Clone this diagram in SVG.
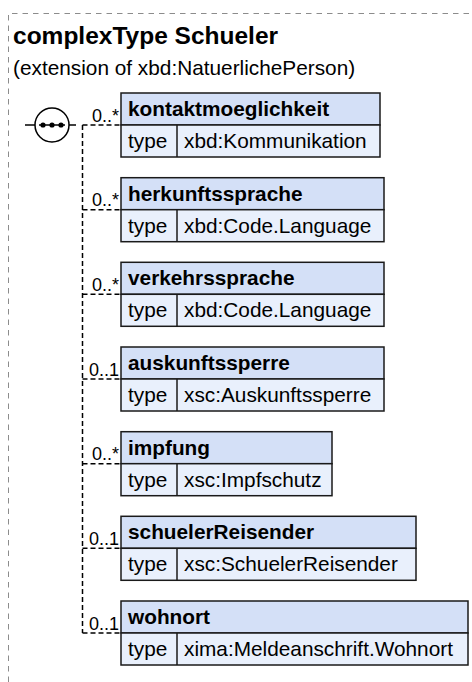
<svg xmlns="http://www.w3.org/2000/svg" width="472" height="682" viewBox="0 0 472 682">
<style>
.frame{fill:none;stroke:#8c8c8c;stroke-width:1;stroke-dasharray:5.5,5}
.title{font-family:"Liberation Sans",Arial,sans-serif;font-weight:bold;font-size:24.5px;fill:#000}
.sub{font-family:"Liberation Sans",Arial,sans-serif;font-size:20.8px;fill:#000}
.hdr{fill:#d4e0f7;stroke:#1a1a1a;stroke-width:1.5}
.row{fill:#e9f0fc;stroke:#1a1a1a;stroke-width:1.5}
.name{font-family:"Liberation Sans",Arial,sans-serif;font-weight:bold;font-size:20.8px;fill:#000}
.txt{font-family:"Liberation Sans",Arial,sans-serif;font-size:20.8px;fill:#000}
.card{font-family:"Liberation Sans",Arial,sans-serif;font-size:18px;fill:#000;text-anchor:end}
.dash{fill:none;stroke:#000;stroke-width:1.5;stroke-dasharray:5,3}
.solid{fill:none;stroke:#000;stroke-width:1.5}
</style>
<path class="frame" d="M8.5,682 V13.5 H472"/>
<text class="title" x="13" y="44">complexType Schueler</text>
<text class="sub" x="13" y="75">(extension of xbd:NatuerlichePerson)</text>
<g id="sequence">
<line class="solid" x1="25" y1="125" x2="35" y2="125"/>
<circle cx="52" cy="125" r="17" fill="#fff" stroke="#000" stroke-width="1.5"/>
<line class="solid" x1="69" y1="125" x2="76" y2="125"/>
<line x1="39" y1="125" x2="65" y2="125" stroke="#000" stroke-width="1.5"/>
<circle cx="43" cy="125" r="2.6" fill="#000"/>
<circle cx="52" cy="125" r="2.6" fill="#000"/>
<circle cx="61" cy="125" r="2.6" fill="#000"/>
</g>
<g id="connectors">
<path class="dash" d="M82.5,125 V633"/>
<path class="dash" d="M82.5,125 H121"/>
<path class="dash" d="M82.5,209.7 H121"/>
<path class="dash" d="M82.5,294.3 H121"/>
<path class="dash" d="M82.5,379 H121"/>
<path class="dash" d="M82.5,463.7 H121"/>
<path class="dash" d="M82.5,548.3 H121"/>
<path class="dash" d="M82.5,633 H121"/>
<text class="card" x="119" y="121.5">0..*</text>
<text class="card" x="119" y="206.2">0..*</text>
<text class="card" x="119" y="290.8">0..*</text>
<text class="card" x="119" y="375.5">0..1</text>
<text class="card" x="119" y="460.2">0..*</text>
<text class="card" x="119" y="544.8">0..1</text>
<text class="card" x="119" y="629.5">0..1</text>
</g>
<g id="kontaktmoeglichkeit" transform="translate(121,93)">
<rect class="hdr" x="0" y="0" width="259" height="32"/>
<rect class="row" x="0" y="32" width="259" height="32"/>
<line x1="56" y1="32" x2="56" y2="64" stroke="#1a1a1a" stroke-width="1.5"/>
<text class="name" x="7" y="23">kontaktmoeglichkeit</text>
<text class="txt" x="7" y="55">type</text>
<text class="txt" x="63" y="55">xbd:Kommunikation</text>
</g>
<g id="herkunftssprache" transform="translate(121,177.7)">
<rect class="hdr" x="0" y="0" width="263" height="32"/>
<rect class="row" x="0" y="32" width="263" height="32"/>
<line x1="56" y1="32" x2="56" y2="64" stroke="#1a1a1a" stroke-width="1.5"/>
<text class="name" x="7" y="23">herkunftssprache</text>
<text class="txt" x="7" y="55">type</text>
<text class="txt" x="63" y="55">xbd:Code.Language</text>
</g>
<g id="verkehrssprache" transform="translate(121,262.3)">
<rect class="hdr" x="0" y="0" width="263" height="32"/>
<rect class="row" x="0" y="32" width="263" height="32"/>
<line x1="56" y1="32" x2="56" y2="64" stroke="#1a1a1a" stroke-width="1.5"/>
<text class="name" x="7" y="23">verkehrssprache</text>
<text class="txt" x="7" y="55">type</text>
<text class="txt" x="63" y="55">xbd:Code.Language</text>
</g>
<g id="auskunftssperre" transform="translate(121,347)">
<rect class="hdr" x="0" y="0" width="263" height="32"/>
<rect class="row" x="0" y="32" width="263" height="32"/>
<line x1="56" y1="32" x2="56" y2="64" stroke="#1a1a1a" stroke-width="1.5"/>
<text class="name" x="7" y="23">auskunftssperre</text>
<text class="txt" x="7" y="55">type</text>
<text class="txt" x="63" y="55">xsc:Auskunftssperre</text>
</g>
<g id="impfung" transform="translate(121,431.7)">
<rect class="hdr" x="0" y="0" width="211" height="32"/>
<rect class="row" x="0" y="32" width="211" height="32"/>
<line x1="56" y1="32" x2="56" y2="64" stroke="#1a1a1a" stroke-width="1.5"/>
<text class="name" x="7" y="23">impfung</text>
<text class="txt" x="7" y="55">type</text>
<text class="txt" x="63" y="55">xsc:Impfschutz</text>
</g>
<g id="schuelerReisender" transform="translate(121,516.3)">
<rect class="hdr" x="0" y="0" width="295" height="32"/>
<rect class="row" x="0" y="32" width="295" height="32"/>
<line x1="56" y1="32" x2="56" y2="64" stroke="#1a1a1a" stroke-width="1.5"/>
<text class="name" x="7" y="23">schuelerReisender</text>
<text class="txt" x="7" y="55">type</text>
<text class="txt" x="63" y="55">xsc:SchuelerReisender</text>
</g>
<g id="wohnort" transform="translate(121,601)">
<rect class="hdr" x="0" y="0" width="347" height="32"/>
<rect class="row" x="0" y="32" width="347" height="32"/>
<line x1="56" y1="32" x2="56" y2="64" stroke="#1a1a1a" stroke-width="1.5"/>
<text class="name" x="7" y="23">wohnort</text>
<text class="txt" x="7" y="55">type</text>
<text class="txt" x="63" y="55">xima:Meldeanschrift.Wohnort</text>
</g>
</svg>
